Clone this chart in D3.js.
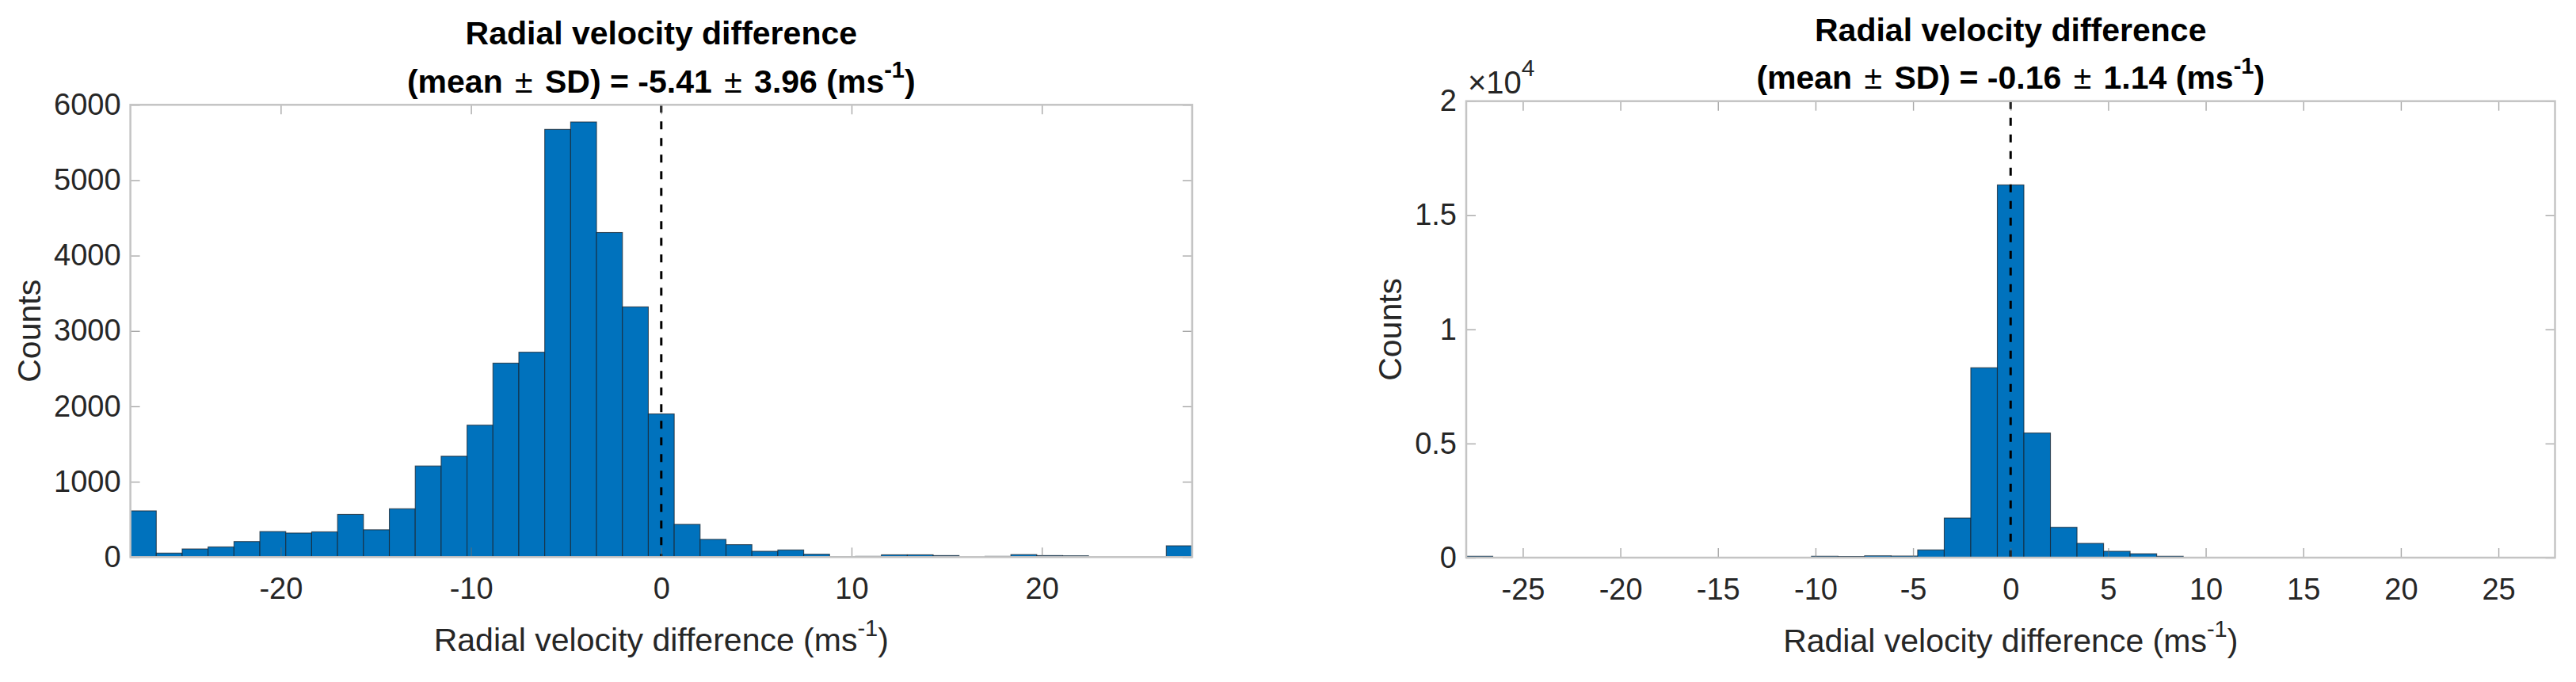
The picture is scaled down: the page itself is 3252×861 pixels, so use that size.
<!DOCTYPE html>
<html>
<head>
<meta charset="utf-8">
<script src="https://cdn.jsdelivr.net/npm/d3@7/dist/d3.min.js"></script>
<style>
  body { margin: 0; background: #ffffff; }
  text { font-family: "Liberation Sans", Arial, Helvetica, sans-serif; }
</style>
</head>
<body>
<svg id="figuur"></svg>
<script>

// bins (shared by both histograms)
var xGrenzen = [-27.9, 27.9];
var aantalBins = 41;
var nulLijn = 0;

// counts per bin
var tellingenLinks = [613, 53, 108, 135, 206, 339, 319, 335, 566, 362,
                      641, 1209, 1338, 1750, 2573, 2718, 5674, 5772, 4306, 3319,
                      1899, 434, 235, 165, 77, 95, 38, 5, 10, 30,
                      30, 20, 0, 10, 33, 20, 17, 0, 0, 0,
                      150];
var tellingenRechts = [60, 0, 0, 0, 0, 0, 0, 0, 0, 0,
                       0, 0, 0, 60, 50, 80, 70, 340, 1735, 8320,
                       16330, 5460, 1330, 625, 278, 170, 60, 0, 0, 0,
                       0, 0, 0, 0, 0, 0, 0, 0, 0, 0,
                       0];

// ticks and labels
var xTicksLinks = [-20, -10, 0, 10, 20];
var yTicksLinks = [0, 1000, 2000, 3000, 4000, 5000, 6000];
var yLabelsLinks = ["0", "1000", "2000", "3000", "4000", "5000", "6000"];
var xTicksRechts = [-25, -20, -15, -10, -5, 0, 5, 10, 15, 20, 25];
var yTicksRechts = [0, 5000, 10000, 15000, 20000];
var yLabelsRechts = ["0", "0.5", "1", "1.5", "2"];

// statistics in the titles
var gemiddeldeLinks = "-5.41", sdLinks = "3.96";
var gemiddeldeRechts = "-0.16", sdRechts = "1.14";

var titel = "Radial velocity difference";
var xTitel = "Radial velocity difference (ms";
var yTitel = "Counts";

var breedte = 3252, hoogte = 861;
var tickFont = 38, labelFont = 41;

var svg = d3.select("#figuur")
            .attr("width", breedte)
            .attr("height", hoogte);

svg.append("rect")
   .attr("width", breedte)
   .attr("height", hoogte)
   .attr("fill", "#ffffff");

var binBreedte = (xGrenzen[1] - xGrenzen[0]) / aantalBins;
var binRanden = d3.range(aantalBins + 1).map(function(i) {
  return xGrenzen[0] + i * binBreedte;
});

function histogram(p) {

  var x = d3.scaleLinear()
            .domain(xGrenzen)
            .range([p.links, p.rechts]);
  var y = d3.scaleLinear()
            .domain([0, p.yMax])
            .range([p.onder, p.boven]);

  var g = svg.append("g");

  // bins with a count
  var bins = p.tellingen.map(function(c, i) {
    return {x0: binRanden[i], x1: binRanden[i + 1], telling: c};
  }).filter(function(d) { return d.telling > 0; });

  g.selectAll(".staaf")
   .data(bins)
   .enter().append("rect")
   .attr("class", "staaf")
   .attr("x", function(d) { return x(d.x0); })
   .attr("width", function(d) { return x(d.x1) - x(d.x0); })
   .attr("y", function(d) { return y(d.telling); })
   .attr("height", function(d) { return y(0) - y(d.telling); })
   .attr("fill", "#0072bd")
   .attr("stroke", "#18232e")
   .attr("stroke-opacity", 0.75)
   .attr("stroke-width", 1.1);

  // dashed line at zero
  g.append("line")
   .attr("x1", x(nulLijn))
   .attr("x2", x(nulLijn))
   .attr("y1", p.boven)
   .attr("y2", p.onder)
   .attr("stroke", "#000000")
   .attr("stroke-width", 3)
   .attr("stroke-dasharray", "10,11");

  // axes with inward ticks
  function opmaak(as, metTekst) {
    as.select(".domain").remove();
    as.attr("font-size", tickFont)
      .attr("font-family", null)
      .attr("fill", "#262626");
    as.selectAll(".tick line")
      .attr("stroke", "#6e6e6e")
      .attr("stroke-opacity", 0.6)
      .attr("stroke-width", 1.4);
    as.selectAll(".tick text").attr("fill", "#262626");
    if (!metTekst) as.selectAll(".tick text").remove();
  }

  g.append("g")
   .attr("transform", "translate(0," + p.onder + ")")
   .call(d3.axisBottom(x).tickValues(p.xTicks).tickSize(-12).tickPadding(26)
           .tickFormat(function(d) { return d; }))
   .call(opmaak, true);

  g.append("g")
   .attr("transform", "translate(0," + p.boven + ")")
   .call(d3.axisTop(x).tickValues(p.xTicks).tickSize(-12))
   .call(opmaak, false);

  g.append("g")
   .attr("transform", "translate(" + p.links + ",0)")
   .call(d3.axisLeft(y).tickValues(p.yTicks).tickSize(-12).tickPadding(12)
           .tickFormat(function(d, i) { return p.yLabels[i]; }))
   .call(opmaak, true);

  g.append("g")
   .attr("transform", "translate(" + p.rechts + ",0)")
   .call(d3.axisRight(y).tickValues(p.yTicks).tickSize(-12))
   .call(opmaak, false);

  // box round the axes
  g.append("rect")
   .attr("x", p.links)
   .attr("y", p.boven)
   .attr("width", p.rechts - p.links)
   .attr("height", p.onder - p.boven)
   .attr("fill", "none")
   .attr("stroke", "#c4c4c4")
   .attr("stroke-width", 2.5);

  var midden = (p.links + p.rechts) / 2;

  // title, two lines
  g.append("text")
   .attr("x", midden)
   .attr("y", p.titelY)
   .attr("text-anchor", "middle")
   .attr("font-size", labelFont)
   .attr("font-weight", "bold")
   .text(titel);

  var t2 = g.append("text")
            .attr("x", midden)
            .attr("y", p.titelY + 60.5)
            .attr("text-anchor", "middle")
            .attr("font-size", labelFont)
            .attr("font-weight", "bold");
  t2.append("tspan").text("(mean ");
  t2.append("tspan").attr("font-weight", "normal").attr("dx", 4).text("\u00b1");
  t2.append("tspan").attr("dx", 4).text(" SD) = " + p.gemiddelde + " ");
  t2.append("tspan").attr("font-weight", "normal").attr("dx", 4).text("\u00b1");
  t2.append("tspan").attr("dx", 4).text(" " + p.sd + " (ms");
  t2.append("tspan").attr("font-size", 29).attr("dy", -19).text("-1");
  t2.append("tspan").attr("dy", 19).text(")");

  // x label
  var xl = g.append("text")
            .attr("x", midden)
            .attr("y", p.onder + 119)
            .attr("text-anchor", "middle")
            .attr("font-size", labelFont)
            .attr("fill", "#262626");
  xl.append("tspan").text(xTitel);
  xl.append("tspan").attr("font-size", 29).attr("dy", -19).text("-1");
  xl.append("tspan").attr("dy", 19).text(")");

  // y label
  g.append("text")
   .attr("transform", "translate(" + p.yTitelX + "," + ((p.boven + p.onder) / 2) + ") rotate(-90)")
   .attr("text-anchor", "middle")
   .attr("font-size", labelFont)
   .attr("fill", "#262626")
   .text(yTitel);

  // exponent above the y axis
  if (p.exponent) {
    var ex = g.append("text")
              .attr("x", p.links + 2)
              .attr("y", p.boven - 10)
              .attr("font-size", 40)
              .attr("fill", "#262626");
    ex.append("tspan").text("\u00d710");
    ex.append("tspan").attr("font-size", 30).attr("dy", -22).text(p.exponent);
  }
}

histogram({
  tellingen: tellingenLinks, yMax: 6000,
  xTicks: xTicksLinks, yTicks: yTicksLinks, yLabels: yLabelsLinks,
  gemiddelde: gemiddeldeLinks, sd: sdLinks,
  links: 164.6, rechts: 1505, boven: 132.3, onder: 703.3,
  titelY: 56, yTitelX: 51, exponent: null
});

histogram({
  tellingen: tellingenRechts, yMax: 20000,
  xTicks: xTicksRechts, yTicks: yTicksRechts, yLabels: yLabelsRechts,
  gemiddelde: gemiddeldeRechts, sd: sdRechts,
  links: 1851, rechts: 3225.5, boven: 127.7, onder: 704,
  titelY: 51.5, yTitelX: 1769, exponent: "4"
});

</script>
</body>
</html>
